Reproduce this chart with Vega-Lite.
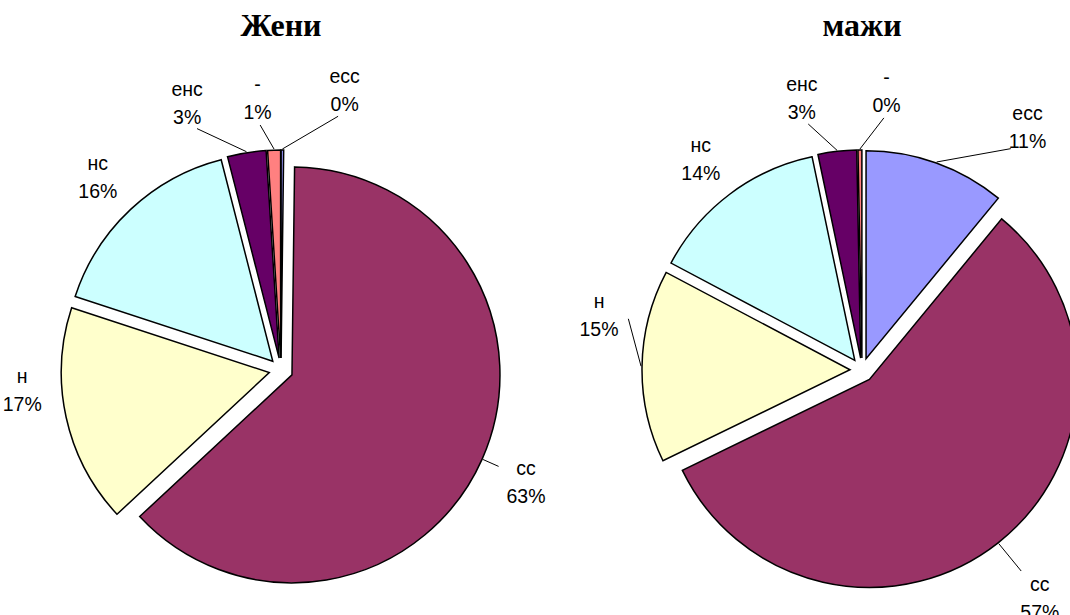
{
  "$schema": "https://vega.github.io/schema/vega-lite/v6.json",
  "padding": {"top": 10, "left": 0, "right": 0, "bottom": 0},
  "spacing": 0,
  "background": "white",
  "config": {
    "view": {"stroke": null},
    "title": {"font": "Liberation Serif", "fontSize": 32, "fontWeight": "bold", "color": "#000000", "anchor": "middle", "offset": 4}
  },
  "datasets": {
    "women": [
      {"cat": "есс", "value": 0.2, "order": 1},
      {"cat": "сс", "value": 63, "order": 2},
      {"cat": "н", "value": 17, "order": 3},
      {"cat": "нс", "value": 16, "order": 4},
      {"cat": "енс", "value": 3, "order": 5},
      {"cat": "-", "value": 1, "order": 6}
    ],
    "men": [
      {"cat": "есс", "value": 11, "order": 1},
      {"cat": "сс", "value": 57, "order": 2},
      {"cat": "н", "value": 15, "order": 3},
      {"cat": "нс", "value": 14, "order": 4},
      {"cat": "енс", "value": 3, "order": 5},
      {"cat": "-", "value": 0.3, "order": 6}
    ]
  },
  "hconcat": [
    {
      "width": 562,
      "height": 646,
      "title": "Жени",
      "data": {"name": "women"},
      "transform": [
        {"joinaggregate": [{"op": "sum", "field": "value", "as": "total"}]},
        {"window": [{"op": "sum", "field": "value", "as": "cum"}], "sort": [{"field": "order", "order": "ascending"}], "frame": [null, 0]},
        {"calculate": "(datum.cum - datum.value) / datum.total", "as": "t0"},
        {"calculate": "datum.cum / datum.total", "as": "t1"},
        {"calculate": "PI * (datum.t0 + datum.t1)", "as": "mid"},
        {"calculate": "0.12 * sin(datum.mid)", "as": "ex"},
        {"calculate": "0.12 * cos(datum.mid)", "as": "ey"},
        {"calculate": "2.21 * sin(datum.mid)", "as": "e1x"},
        {"calculate": "2.21 * cos(datum.mid)", "as": "e1y"},
        {"calculate": "datum.cat === 'есс' ? 0.62 : datum.cat === '-' ? -0.15 : datum.cat === 'енс' ? -0.52 : datum.cat === 'н' ? 0.03 : 0", "as": "ndx"},
        {"calculate": "datum.cat === 'есс' ? 0.15 : datum.cat === '-' ? 0.07 : datum.cat === 'енс' ? 0.05 : datum.cat === 'н' ? 0.41 : 0", "as": "ndy"},
        {"calculate": "2.68 * sin(datum.mid) + datum.ndx", "as": "lx"},
        {"calculate": "2.68 * cos(datum.mid) + datum.ndy", "as": "ly"},
        {"calculate": "sqrt(datum.lx * datum.lx + datum.ly * datum.ly)", "as": "ld"},
        {"calculate": "datum.lx * (1 - 0.3 / datum.ld)", "as": "e2x"},
        {"calculate": "datum.ly * (1 - 0.3 / datum.ld)", "as": "e2y"},
        {"calculate": "datum.cat + '\\n' + format(datum.value, '.0f') + '%'", "as": "label"}
      ],
      "layer": [
        {
          "mark": {"type": "arc", "radius": 208, "stroke": "#000000", "strokeWidth": 1.5},
          "encoding": {
            "theta": {"field": "t0", "type": "quantitative", "scale": {"domain": [0, 1]}},
            "theta2": {"field": "t1"},
            "x": {"field": "ex", "type": "quantitative", "scale": {"domain": [-2.81, 2.81], "nice": false, "zero": false}, "axis": null},
            "y": {"field": "ey", "type": "quantitative", "scale": {"domain": [-3.23, 3.23], "nice": false, "zero": false}, "axis": null},
            "color": {"field": "cat", "type": "nominal", "legend": null,
              "scale": {"domain": ["есс", "сс", "н", "нс", "енс", "-"], "range": ["#9999FF", "#993366", "#FFFFCC", "#CCFFFF", "#660066", "#FF8080"]}}
          }
        },
        {
          "transform": [{"filter": "datum.cat !== 'нс' && datum.cat !== 'н'"}],
          "mark": {"type": "rule", "color": "#000000", "strokeWidth": 1},
          "encoding": {
            "x": {"field": "e1x", "type": "quantitative", "scale": {"domain": [-2.81, 2.81], "nice": false, "zero": false}, "axis": null},
            "y": {"field": "e1y", "type": "quantitative", "scale": {"domain": [-3.23, 3.23], "nice": false, "zero": false}, "axis": null},
            "x2": {"field": "e2x"},
            "y2": {"field": "e2y"}
          }
        },
        {
          "mark": {"type": "text", "font": "Liberation Sans", "fontSize": 19.5, "lineHeight": 28, "lineBreak": "\n", "align": "center", "baseline": "middle", "dy": -10, "color": "#000000"},
          "encoding": {
            "x": {"field": "lx", "type": "quantitative", "scale": {"domain": [-2.81, 2.81], "nice": false, "zero": false}, "axis": null},
            "y": {"field": "ly", "type": "quantitative", "scale": {"domain": [-3.23, 3.23], "nice": false, "zero": false}, "axis": null},
            "text": {"field": "label"}
          }
        }
      ]
    },
    {
      "width": 600,
      "height": 646,
      "title": "мажи",
      "data": {"name": "men"},
      "transform": [
        {"joinaggregate": [{"op": "sum", "field": "value", "as": "total"}]},
        {"window": [{"op": "sum", "field": "value", "as": "cum"}], "sort": [{"field": "order", "order": "ascending"}], "frame": [null, 0]},
        {"calculate": "(datum.cum - datum.value) / datum.total", "as": "t0"},
        {"calculate": "datum.cum / datum.total", "as": "t1"},
        {"calculate": "PI * (datum.t0 + datum.t1)", "as": "mid"},
        {"calculate": "0.12 * sin(datum.mid)", "as": "ex"},
        {"calculate": "0.12 * cos(datum.mid)", "as": "ey"},
        {"calculate": "2.21 * sin(datum.mid)", "as": "e1x"},
        {"calculate": "2.21 * cos(datum.mid)", "as": "e1y"},
        {"calculate": "datum.cat === 'есс' ? 0.75 : datum.cat === '-' ? 0.27 : datum.cat === 'енс' ? -0.30 : datum.cat === 'н' ? 0.05 : datum.cat === 'сс' ? 0.12 : 0", "as": "ndx"},
        {"calculate": "datum.cat === 'есс' ? -0.06 : datum.cat === '-' ? 0.14 : datum.cat === 'енс' ? 0.09 : datum.cat === 'н' ? 0.53 : datum.cat === 'сс' ? -0.14 : 0", "as": "ndy"},
        {"calculate": "2.68 * sin(datum.mid) + datum.ndx", "as": "lx"},
        {"calculate": "2.68 * cos(datum.mid) + datum.ndy", "as": "ly"},
        {"calculate": "sqrt(datum.lx * datum.lx + datum.ly * datum.ly)", "as": "ld"},
        {"calculate": "datum.lx * (1 - 0.3 / datum.ld)", "as": "e2x"},
        {"calculate": "datum.ly * (1 - 0.3 / datum.ld)", "as": "e2y"},
        {"calculate": "datum.cat + '\\n' + format(datum.value, '.0f') + '%'", "as": "label"}
      ],
      "layer": [
        {
          "mark": {"type": "arc", "radius": 208, "stroke": "#000000", "strokeWidth": 1.5},
          "encoding": {
            "theta": {"field": "t0", "type": "quantitative", "scale": {"domain": [0, 1]}},
            "theta2": {"field": "t1"},
            "x": {"field": "ex", "type": "quantitative", "scale": {"domain": [-3.0, 3.0], "nice": false, "zero": false}, "axis": null},
            "y": {"field": "ey", "type": "quantitative", "scale": {"domain": [-3.23, 3.23], "nice": false, "zero": false}, "axis": null},
            "color": {"field": "cat", "type": "nominal", "legend": null,
              "scale": {"domain": ["есс", "сс", "н", "нс", "енс", "-"], "range": ["#9999FF", "#993366", "#FFFFCC", "#CCFFFF", "#660066", "#FF8080"]}}
          }
        },
        {
          "transform": [{"filter": "datum.cat !== 'нс'"}],
          "mark": {"type": "rule", "color": "#000000", "strokeWidth": 1},
          "encoding": {
            "x": {"field": "e1x", "type": "quantitative", "scale": {"domain": [-3.0, 3.0], "nice": false, "zero": false}, "axis": null},
            "y": {"field": "e1y", "type": "quantitative", "scale": {"domain": [-3.23, 3.23], "nice": false, "zero": false}, "axis": null},
            "x2": {"field": "e2x"},
            "y2": {"field": "e2y"}
          }
        },
        {
          "mark": {"type": "text", "font": "Liberation Sans", "fontSize": 19.5, "lineHeight": 28, "lineBreak": "\n", "align": "center", "baseline": "middle", "dy": -10, "color": "#000000"},
          "encoding": {
            "x": {"field": "lx", "type": "quantitative", "scale": {"domain": [-3.0, 3.0], "nice": false, "zero": false}, "axis": null},
            "y": {"field": "ly", "type": "quantitative", "scale": {"domain": [-3.23, 3.23], "nice": false, "zero": false}, "axis": null},
            "text": {"field": "label"}
          }
        }
      ]
    }
  ]
}
